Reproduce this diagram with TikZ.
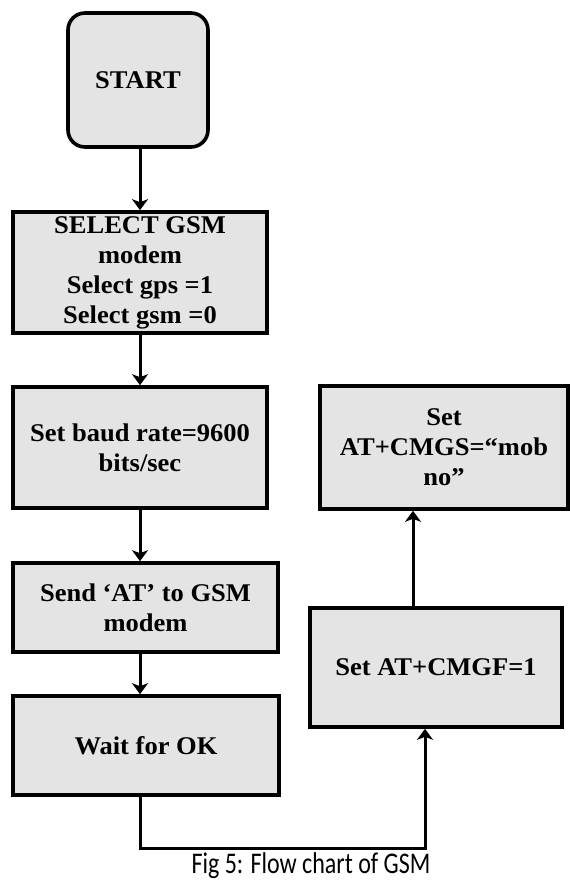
\documentclass[tikz,border=0pt]{standalone}
\usepackage{fontspec}
\usetikzlibrary{arrows.meta,calc}
\setmainfont{Liberation Serif}
\newfontfamily\boxfont{Liberation Serif}[FakeStretch=1.04]
\newfontfamily\capfont{Carlito}[FakeStretch=0.8]
\definecolor{boxgray}{RGB}{228,228,228}
\tikzset{
  flowbox/.style={draw=black, line width=3.6pt, fill=boxgray, inner sep=0pt,
    align=center, font=\boxfont\bfseries\fontsize{25.5}{30}\selectfont},
  conn/.style={line width=3pt, draw=black},
  arr/.style={conn, -{Stealth[length=11pt,width=16pt,inset=3pt]}}
}
\begin{document}
\begin{tikzpicture}[x=1pt,y=1pt]
\useasboundingbox (0,0) rectangle (570,-881);
\fill[white] (0,0) rectangle (570,-881);

\node[flowbox, rounded corners=17pt, minimum width=140pt, minimum height=134pt] (start) at (138,-80) {START};
\node[flowbox, minimum width=254pt, minimum height=121pt] (select) at (140,-272.5)
  {SELECT GSM\\modem\\Select gps =1\\Select gsm =0};
\node[flowbox, minimum width=254pt, minimum height=121pt] (baud) at (140,-447.5)
  {Set baud rate=9600\\bits/sec};
\node[flowbox, minimum width=265pt, minimum height=89pt] (send) at (145.5,-607.5)
  {Send ‘AT’ to GSM\\modem};
\node[flowbox, minimum width=266pt, minimum height=99pt] (wait) at (146,-745.5)
  {Wait for OK};
\node[flowbox, minimum width=252pt, minimum height=119pt] (cmgf) at (436,-667.5)
  {Set AT+CMGF=1};
\node[flowbox, minimum width=248pt, minimum height=123pt] (cmgs) at (444,-447.5)
  {Set\\AT+CMGS=“mob\\no”};

\coordinate (lx) at (140,0);
\coordinate (c1) at (425,-848);
\coordinate (c2) at (413,0);

\draw[arr] (start.south -| lx) -- (select.north -| lx);
\draw[arr] (select.south -| lx) -- (baud.north -| lx);
\draw[arr] (baud.south -| lx) -- (send.north -| lx);
\draw[arr] (send.south -| lx) -- (wait.north -| lx);
\draw[arr] (wait.south -| lx) |- (c1) -- (c1 |- cmgf.south);
\draw[arr] (cmgf.north -| c2) -- (cmgs.south -| c2);

\node[font=\capfont\fontsize{30}{32}\selectfont, anchor=base, inner sep=0pt] (cap) at (311,-873.5)
  {Fig 5: Flow chart of GSM};
\end{tikzpicture}
\end{document}
